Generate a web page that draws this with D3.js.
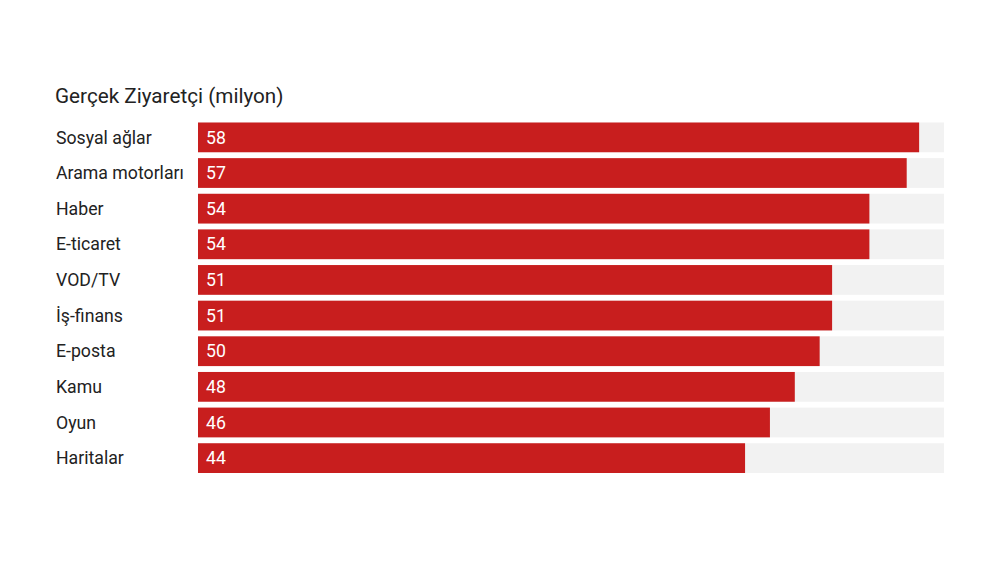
<!DOCTYPE html>
<html>
<head>
<meta charset="utf-8">
<script src="https://cdn.jsdelivr.net/npm/d3@7"></script>
<style>
  body { margin: 0; background: #fff; }
  svg { font-family: Roboto, sans-serif; }
</style>
</head>
<body>
<div id="chart"></div>
<script>
const categories = ["Sosyal ağlar", "Arama motorları", "Haber", "E-ticaret", "VOD/TV",
                    "İş-finans", "E-posta", "Kamu", "Oyun", "Haritalar"];
const values = [58, 57, 54, 54, 51, 51, 50, 48, 46, 44];
const maxValue = 60;
const title = "Gerçek Ziyaretçi (milyon)";

const width = 1000, height = 566;

const svg = d3.select("#chart").append("svg")
    .attr("width", width)
    .attr("height", height);

const xScale = d3.scaleLinear()
    .domain([0, maxValue])
    .range([198, 944]);

const yScale = d3.scaleBand()
    .domain(categories)
    .range([122.5, 473])
    .paddingInner(0.165)
    .paddingOuter(0);

svg.append("text")
    .attr("x", 55)
    .attr("y", 103)
    .attr("font-size", 20.7)
    .attr("fill", "#222")
    .text(title);

const rows = svg.selectAll("g.row")
    .data(categories)
    .join("g")
    .attr("class", "row");

// grey track
rows.append("rect")
    .attr("x", xScale(0))
    .attr("y", d => yScale(d))
    .attr("width", xScale(maxValue) - xScale(0))
    .attr("height", yScale.bandwidth())
    .attr("fill", "#f2f2f2");

rows.append("rect")
    .attr("x", xScale(0))
    .attr("y", d => yScale(d))
    .attr("width", (d, i) => xScale(values[i]) - xScale(0))
    .attr("height", yScale.bandwidth())
    .attr("fill", "#c81e1e");

rows.append("text")
    .attr("x", 56)
    .attr("y", d => yScale(d) + yScale.bandwidth() / 2)
    .attr("dy", "0.35em")
    .attr("font-size", 17.7)
    .attr("fill", "#222")
    .text(d => d);

rows.append("text")
    .attr("x", xScale(0) + 8)
    .attr("y", d => yScale(d) + yScale.bandwidth() / 2)
    .attr("dy", "0.35em")
    .attr("font-size", 17.7)
    .attr("fill", "#fff")
    .text((d, i) => values[i]);
</script>
</body>
</html>
